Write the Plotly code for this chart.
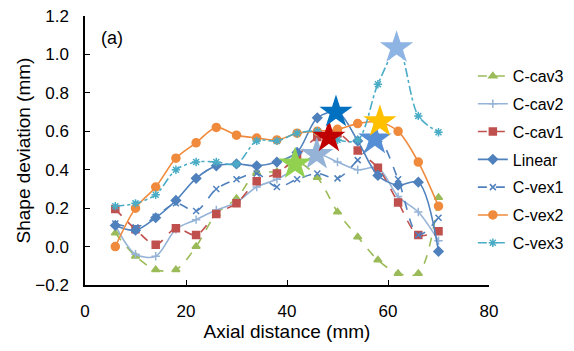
import plotly.graph_objects as go

x_pos = [6, 10, 14, 18, 22, 26, 30, 34, 38, 42, 46, 50, 54, 58, 62, 66, 70]

c_cav3 = [0.07, -0.05, -0.12, -0.12, 0.00, 0.17, 0.25, 0.385, 0.39, 0.44, 0.36, 0.18, 0.05, -0.07, -0.14, -0.14, 0.255]
c_cav2 = [0.11, -0.04, -0.05, 0.09, 0.14, 0.19, 0.23, 0.31, 0.35, 0.41, 0.48, 0.44, 0.40, 0.41, 0.26, 0.18, 0.03]
c_cav1 = [0.195, 0.09, 0.01, 0.095, 0.06, 0.17, 0.225, 0.34, 0.38, 0.47, 0.57, 0.59, 0.50, 0.41, 0.23, 0.06, 0.08]
linear = [0.11, 0.085, 0.15, 0.24, 0.355, 0.42, 0.43, 0.42, 0.44, 0.49, 0.67, 0.70, 0.55, 0.37, 0.32, 0.335, -0.025]
c_vex1 = [0.12, 0.10, 0.155, 0.225, 0.185, 0.30, 0.35, 0.38, 0.31, 0.35, 0.38, 0.355, 0.45, 0.56, 0.35, 0.06, 0.15]
c_vex2 = [0.00, 0.20, 0.31, 0.46, 0.54, 0.62, 0.58, 0.565, 0.555, 0.59, 0.60, 0.61, 0.64, 0.65, 0.60, 0.44, 0.21]
c_vex3 = [0.21, 0.225, 0.27, 0.40, 0.44, 0.44, 0.43, 0.55, 0.55, 0.59, 0.60, 0.555, 0.555, 0.845, 1.03, 0.68, 0.595]

star_x = [41.6, 45.9, 48.3, 49.7, 57.4, 58.4, 61.7]
star_y = [0.43, 0.48, 0.57, 0.70, 0.56, 0.65, 1.035]
star_colors = ["#92D050", "#95B3D7", "#C00000", "#0070C0", "#558ED5", "#FFC000", "#8EB4E3"]

series = [
    ("C-cav3", c_cav3, "#9BBB59", "dash", "triangle-up", 7),
    ("C-cav2", c_cav2, "#95B3D7", "solid", "cross-thin-open", 6),
    ("C-cav1", c_cav1, "#C0504D", "dash", "square", 7),
    ("Linear", linear, "#4F81BD", "solid", "diamond", 7),
    ("C-vex1", c_vex1, "#4F81BD", "dash", "x-thin-open", 6),
    ("C-vex2", c_vex2, "#F08A3C", "solid", "circle", 8),
    ("C-vex3", c_vex3, "#4BACC6", "dashdot", "asterisk-open", 7),
]

fig = go.Figure()
for name, ys, color, dash, sym, size in series:
    fig.add_trace(go.Scatter(
        x=x_pos, y=ys, name=name, mode="lines+markers",
        line=dict(color=color, width=1.6, dash=dash, shape="spline", smoothing=0.9),
        marker=dict(symbol=sym, size=size, color=color, line=dict(color=color, width=1.5)),
        legendgroup=name,
    ))

fig.add_trace(go.Scatter(
    x=star_x, y=star_y, mode="markers", showlegend=False,
    marker=dict(symbol="star", size=25, color=star_colors, line=dict(width=0)),
))

fig.update_layout(
    width=574, height=351,
    margin=dict(l=85, r=85, t=16, b=66, autoexpand=False),
    paper_bgcolor="white", plot_bgcolor="white",
    font=dict(family="Liberation Sans, Arial", size=16, color="black"),
    showlegend=True,
    legend=dict(x=0.96, y=0.84, xanchor="left", yanchor="top",
                font=dict(size=16), tracegroupgap=4, bgcolor="rgba(0,0,0,0)"),
    annotations=[dict(text="(a)", x=0.035, y=0.92, xref="paper", yref="paper",
                      xanchor="left", yanchor="middle", showarrow=False,
                      font=dict(size=18))],
)
fig.update_xaxes(range=[0, 80], tickvals=[0, 20, 40, 60, 80], showgrid=False, zeroline=False,
                 showline=True, linecolor="black", linewidth=1.5, ticks="inside", ticklen=5,
                 tickcolor="black", ticklabelstandoff=10, tickfont=dict(size=17),
                 title=dict(text="Axial distance (mm)", standoff=2))
fig.update_yaxes(range=[-0.2, 1.2], dtick=0.2, tickformat=".1f", showgrid=False, zeroline=False,
                 showline=True, linecolor="black", linewidth=1.5, ticks="inside", ticklen=5,
                 tickcolor="black", ticklabelstandoff=11, tickfont=dict(size=17),
                 title=dict(text="Shape deviation (mm)", standoff=0))

fig.write_html("out.html")
